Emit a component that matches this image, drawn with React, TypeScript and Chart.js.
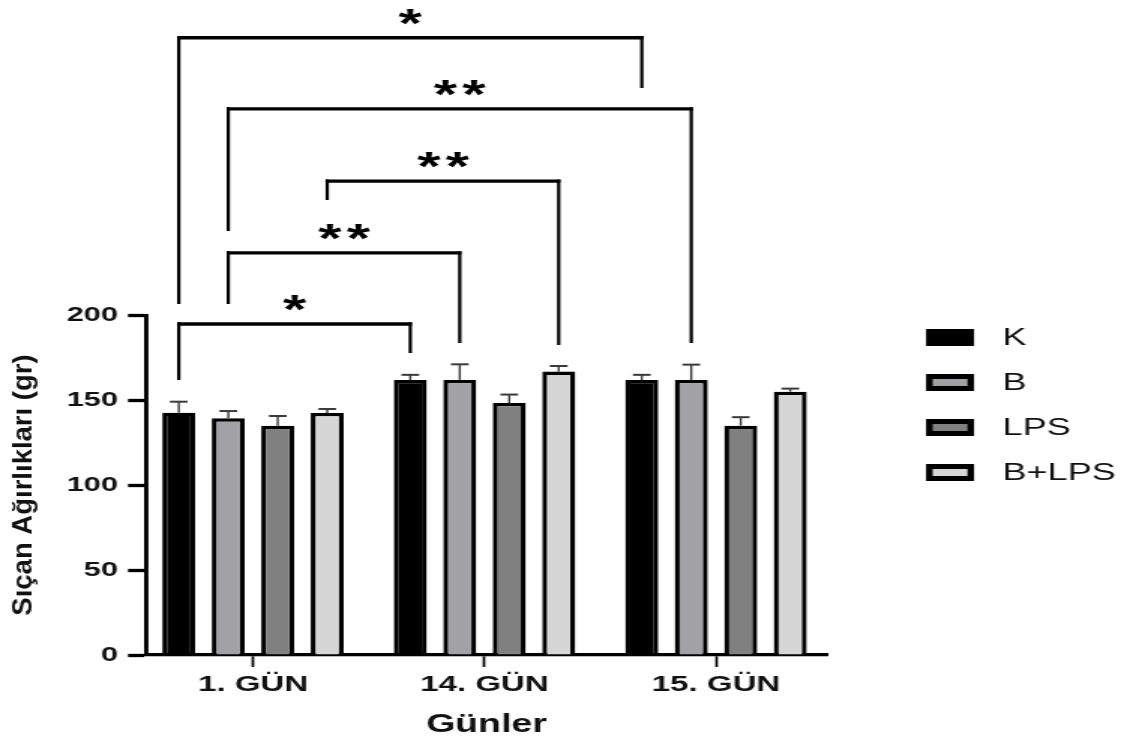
import React, { useEffect, useRef } from 'react';
import { Chart, registerables } from 'chart.js';

Chart.register(...registerables);

// ---- data ----
const CATEGORIES = ['1. GÜN', '14. GÜN', '15. GÜN'];
const SERIES = ['K', 'B', 'LPS', 'B+LPS'];
const K_VALUES = [142.5, 161.8, 161.8];
const K_ERRORS = [6.5, 3.0, 3.0];
const B_VALUES = [139.2, 161.8, 161.8];
const B_ERRORS = [4.3, 9.2, 9.0];
const LPS_VALUES = [134.9, 148.2, 134.9];
const LPS_ERRORS = [5.7, 5.0, 5.0];
const BLPS_VALUES = [142.4, 166.7, 154.9];
const BLPS_ERRORS = [2.3, 3.3, 1.8];
const Y_TICKS = [0, 50, 100, 150, 200];
const Y_TITLE = 'Sıçan Ağırlıkları (gr)';
const X_TITLE = 'Günler';

// significance brackets: [group, series] endpoints, bar level and drop ends in data units
const BRACKET_FROM = [[0, 0], [0, 1], [0, 3], [0, 1], [0, 0]];
const BRACKET_TO = [[2, 0], [2, 1], [1, 3], [1, 1], [1, 0]];
const BRACKET_LEVEL = [363.1, 321.2, 278.8, 236.6, 194.7];
const BRACKET_FROM_END = [206.5, 249.4, 267.6, 206.5, 161.8];
const BRACKET_TO_END = [333.5, 183.5, 182.4, 183.5, 177.6];
const BRACKET_LABEL = ['*', '**', '**', '**', '*'];

const W = 751;
const H = 742;
const S = 1127 / W;
const FONT = '"Liberation Sans", Arial, sans-serif';
const COLORS = ['#000000', '#a2a2a6', '#808080', '#d6d6d6'];

export default function App() {
  const ref = useRef<HTMLCanvasElement>(null);

  useEffect(() => {
    document.body.style.margin = '0';
    document.body.style.overflow = 'hidden';
    const canvas = ref.current;
    if (!canvas) return;

    const values = [K_VALUES, B_VALUES, LPS_VALUES, BLPS_VALUES];
    const errors = [K_ERRORS, B_ERRORS, LPS_ERRORS, BLPS_ERRORS];

    const datasets = SERIES.map((name, i) => ({
      label: name,
      data: values[i].map((v, j) => ({ x: j, y: v })),
      backgroundColor: COLORS[i],
      borderColor: '#000000',
      borderWidth: 3.3,
      categoryPercentage: 0.855,
      barPercentage: 0.667,
    }));

    const errorPlugin = {
      id: 'errorBars',
      afterDatasetsDraw(chart: any) {
        const ctx = chart.ctx;
        const y = chart.scales.y;
        ctx.save();
        ctx.strokeStyle = '#3a3a3a';
        datasets.forEach((_, i) => {
          const meta = chart.getDatasetMeta(i);
          meta.data.forEach((bar: any, j: number) => {
            const v = values[i][j];
            const e = errors[i][j];
            const yTop = y.getPixelForValue(v);
            const yErr = y.getPixelForValue(v + e);
            ctx.lineWidth = 1.4;
            ctx.beginPath();
            ctx.moveTo(bar.x, yTop);
            ctx.lineTo(bar.x, yErr);
            ctx.stroke();
            ctx.lineWidth = 2;
            ctx.beginPath();
            ctx.moveTo(bar.x - 5.9, yErr);
            ctx.lineTo(bar.x + 5.9, yErr);
            ctx.stroke();
          });
        });
        ctx.restore();
      },
    };

    const bracketPlugin = {
      id: 'brackets',
      afterDraw(chart: any) {
        const ctx = chart.ctx;
        const y = chart.scales.y;
        ctx.save();
        ctx.strokeStyle = '#000';
        ctx.fillStyle = '#000';
        const fs = 40;
        ctx.font = `bold ${fs}px ${FONT}`;
        ctx.textAlign = 'center';
        ctx.textBaseline = 'alphabetic';
        BRACKET_LEVEL.forEach((lvl, k) => {
          const a = chart.getDatasetMeta(BRACKET_FROM[k][1]).data[BRACKET_FROM[k][0]];
          const b = chart.getDatasetMeta(BRACKET_TO[k][1]).data[BRACKET_TO[k][0]];
          const yl = y.getPixelForValue(lvl);
          const ya = y.getPixelForValue(BRACKET_FROM_END[k]);
          const yb = y.getPixelForValue(BRACKET_TO_END[k]);
          const hv = 3.3;
          const vv = 2.2;
          ctx.lineWidth = hv;
          ctx.beginPath();
          ctx.moveTo(a.x - vv / 2, yl);
          ctx.lineTo(b.x + vv / 2, yl);
          ctx.stroke();
          ctx.lineWidth = vv;
          ctx.beginPath();
          ctx.moveTo(a.x, yl - hv / 2);
          ctx.lineTo(a.x, ya);
          ctx.moveTo(b.x, yl - hv / 2);
          ctx.lineTo(b.x, yb);
          ctx.stroke();
          const cx = (a.x + b.x) / 2;
          const cy = yl - 23 + fs * 0.56;
          const lab = BRACKET_LABEL[k];
          if (lab.length === 1) {
            ctx.fillText('*', cx, cy);
          } else {
            ctx.fillText('*', cx - 9.5, cy);
            ctx.fillText('*', cx + 9.5, cy);
          }
        });
        ctx.restore();
      },
    };

    const legendPlugin = {
      id: 'sideLegend',
      afterDraw(chart: any) {
        const ctx = chart.ctx;
        const ca = chart.chartArea;
        const lx = ca.right + 66;
        const bw = 32;
        const bh = 17;
        ctx.save();
        SERIES.forEach((name, i) => {
          const cy = 337.5 + i * 45;
          ctx.fillStyle = '#000';
          ctx.fillRect(lx, cy - bh / 2, bw, bh);
          if (i > 0) {
            ctx.fillStyle = COLORS[i];
            ctx.fillRect(lx + 4.4, cy - bh / 2 + 5, bw - 8.8, bh - 10);
          }
          ctx.font = `24px ${FONT}`;
          ctx.fillStyle = '#111';
          ctx.textAlign = 'left';
          ctx.textBaseline = 'middle';
          ctx.fillText(name, lx + 51, cy + 1);
        });
        ctx.restore();
      },
    };

    const yTitlePlugin = {
      id: 'yTitle',
      afterDraw(chart: any) {
        const ctx = chart.ctx;
        const ca = chart.chartArea;
        ctx.save();
        ctx.translate(16.3, (ca.top + ca.bottom) / 2);
        ctx.scale(1 / S, 1);
        ctx.rotate(-Math.PI / 2);
        ctx.font = `bold 27.5px ${FONT}`;
        ctx.fillStyle = '#111';
        ctx.textAlign = 'center';
        ctx.textBaseline = 'middle';
        ctx.fillText(Y_TITLE, 0, 0);
        ctx.restore();
      },
    };

    const chart = new Chart(canvas, {
      type: 'bar',
      data: { datasets: datasets as any },
      options: {
        animation: false,
        responsive: false,
        devicePixelRatio: 1,
        layout: { padding: { left: 0, right: W - 827 / S, top: 315, bottom: 0 } },
        plugins: {
          legend: { display: false },
          tooltip: { enabled: false },
        },
        scales: {
          x: {
            type: 'linear',
            min: (146 - 253) / 231.5,
            max: (827 - 253) / 231.5,
            offset: false,
            afterBuildTicks: (s: any) => {
              s.ticks = CATEGORIES.map((_, i) => ({ value: i }));
            },
            afterFit: (s: any) => {
              s.height = 87;
            },
            ticks: {
              callback: (v: any) => CATEGORIES[v] ?? '',
              font: { family: FONT, size: 22, weight: 'bold' },
              color: '#111',
              padding: 5,
              autoSkip: false,
              maxRotation: 0,
              minRotation: 0,
            },
            grid: {
              display: true,
              offset: false,
              drawOnChartArea: false,
              drawTicks: true,
              tickLength: 12,
              tickWidth: 1.7,
              tickColor: '#000',
              color: '#000',
            },
            border: { display: true, color: '#000', width: 3.3 },
            title: {
              display: true,
              text: X_TITLE,
              font: { family: FONT, size: 25, weight: 'bold' },
              color: '#111',
              padding: { top: 0, bottom: 2 },
            },
          } as any,
          y: {
            type: 'linear',
            min: 0,
            max: 200,
            afterBuildTicks: (s: any) => {
              s.ticks = Y_TICKS.map((v) => ({ value: v }));
            },
            afterFit: (s: any) => {
              s.width = 146 / S;
            },
            ticks: {
              font: { family: FONT, size: 20.5, weight: 'bold' },
              color: '#111',
              padding: 6.7,
            },
            grid: {
              display: true,
              drawOnChartArea: false,
              drawTicks: true,
              tickLength: 12,
              tickWidth: 3.3,
              tickColor: '#000',
              color: '#000',
            },
            border: { display: true, color: '#000', width: 2.9 },
            title: { display: false },
          } as any,
        },
      },
      plugins: [errorPlugin, bracketPlugin, legendPlugin, yTitlePlugin],
    });

    return () => {
      chart.destroy();
    };
  }, []);

  return (
    <div style={{ width: '1127px', height: '742px', background: '#fff' }}>
      <canvas
        ref={ref}
        width={W}
        height={H}
        style={{ width: '1127px', height: '742px', display: 'block' }}
      />
    </div>
  );
}
